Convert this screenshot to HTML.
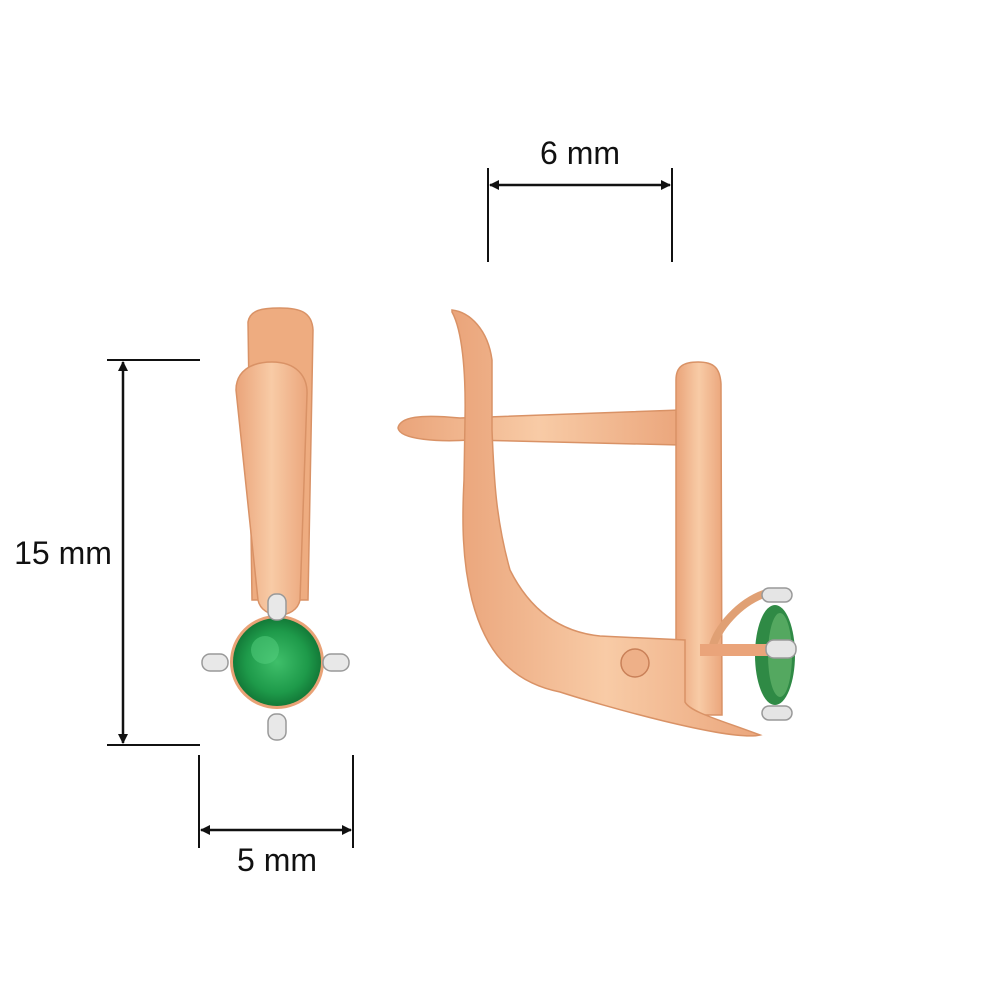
<!DOCTYPE html>
<html><head><meta charset="utf-8"><style>
html,body{margin:0;padding:0;background:#fff;}
svg{display:block}
text{font-family:"Liberation Sans",sans-serif;font-size:32px;fill:#111;}
</style></head><body>
<svg width="1000" height="1000" viewBox="0 0 1000 1000" xmlns="http://www.w3.org/2000/svg">
<defs>
<linearGradient id="g" x1="0" x2="1" y1="0" y2="0">
<stop offset="0" stop-color="#eaa47a"/><stop offset="0.5" stop-color="#f8cba6"/><stop offset="1" stop-color="#eba67c"/>
</linearGradient>
<radialGradient id="gem" cx="0.5" cy="0.5" r="0.5">
<stop offset="0" stop-color="#3fbf6a"/><stop offset="0.7" stop-color="#1e9a4a"/><stop offset="1" stop-color="#137a38"/>
</radialGradient>
<marker id="a" markerWidth="10" markerHeight="10" refX="9" refY="5" orient="auto-start-reverse" markerUnits="userSpaceOnUse" viewBox="0 0 10 10"><path d="M0,0 L10,5 L0,10 Z" fill="#111"/></marker>
</defs>

<g stroke="#111" stroke-width="2" fill="none">
<line x1="488" y1="168" x2="488" y2="262"/><line x1="672" y1="168" x2="672" y2="262"/>
<line x1="490" y1="185" x2="670" y2="185" marker-start="url(#a)" marker-end="url(#a)" stroke-width="2.5"/>
<line x1="107" y1="360" x2="200" y2="360"/><line x1="107" y1="745" x2="200" y2="745"/>
<line x1="123" y1="362" x2="123" y2="743" marker-start="url(#a)" marker-end="url(#a)" stroke-width="2.5"/>
<line x1="199" y1="755" x2="199" y2="848"/><line x1="353" y1="755" x2="353" y2="848"/>
<line x1="201" y1="830" x2="351" y2="830" marker-start="url(#a)" marker-end="url(#a)" stroke-width="2.5"/>
</g>
<text x="580" y="164" text-anchor="middle">6 mm</text>
<text x="63" y="564" text-anchor="middle">15 mm</text>
<text x="277" y="871" text-anchor="middle">5 mm</text>

<path d="M248,322 C250,310 262,308 280,308 C300,308 312,312 313,330 L308,600 L252,600 Z" fill="#eeac80" stroke="#d99266" stroke-width="1.5"/>
<path d="M236,390 C236,372 250,362 272,362 C296,362 308,376 307,395 L300,600 C296,620 262,620 258,600 Z" fill="url(#g)" stroke="#d99266" stroke-width="1.5"/>
<circle cx="277" cy="662" r="47" fill="#e9a276"/>
<circle cx="277" cy="662" r="44" fill="url(#gem)"/>
<circle cx="265" cy="650" r="14" fill="#56d080" opacity="0.5"/>
<g fill="#e8e8e8" stroke="#999" stroke-width="1.5">
<rect x="268" y="594" width="18" height="26" rx="8"/>
<rect x="268" y="714" width="18" height="26" rx="8"/>
<rect x="202" y="654" width="26" height="17" rx="8"/>
<rect x="323" y="654" width="26" height="17" rx="8"/>
</g>

<path d="M398,428 C400,417 420,414 460,418 L680,410 L680,445 L470,440 C440,442 400,440 398,428 Z" fill="url(#g)" stroke="#d99266" stroke-width="1.5"/>
<path d="M676,380 C676,366 684,362 698,362 C714,362 720,368 721,384 L722,715 L684,715 L676,700 Z" fill="url(#g)" stroke="#d99266" stroke-width="1.5"/>
<path d="M452,310 C470,312 488,330 492,360 L492,430 C494,480 496,520 510,570 C530,610 560,632 600,636 L685,640 L685,702 C690,712 720,720 760,735 C730,742 600,705 560,692 C510,682 485,650 472,600 C462,560 462,520 464,480 L465,420 C466,370 462,330 452,312 Z" fill="url(#g)" stroke="#d99266" stroke-width="1.5"/>
<circle cx="635" cy="663" r="14" fill="#eeb088" stroke="#c98058" stroke-width="1.5"/>
<ellipse cx="775" cy="655" rx="20" ry="50" fill="#2f8a45"/>
<ellipse cx="780" cy="655" rx="12" ry="42" fill="#54a860"/>
<path d="M712,650 C715,630 740,600 770,592" stroke="#e0a074" stroke-width="8" fill="none"/>
<path d="M700,650 L790,650" stroke="#eaa47a" stroke-width="12"/>
<g fill="#e5e5e5" stroke="#999" stroke-width="1.5">
<rect x="762" y="588" width="30" height="14" rx="7"/>
<rect x="766" y="640" width="30" height="18" rx="8"/>
<rect x="762" y="706" width="30" height="14" rx="7"/>
</g>
</svg>
</body></html>
